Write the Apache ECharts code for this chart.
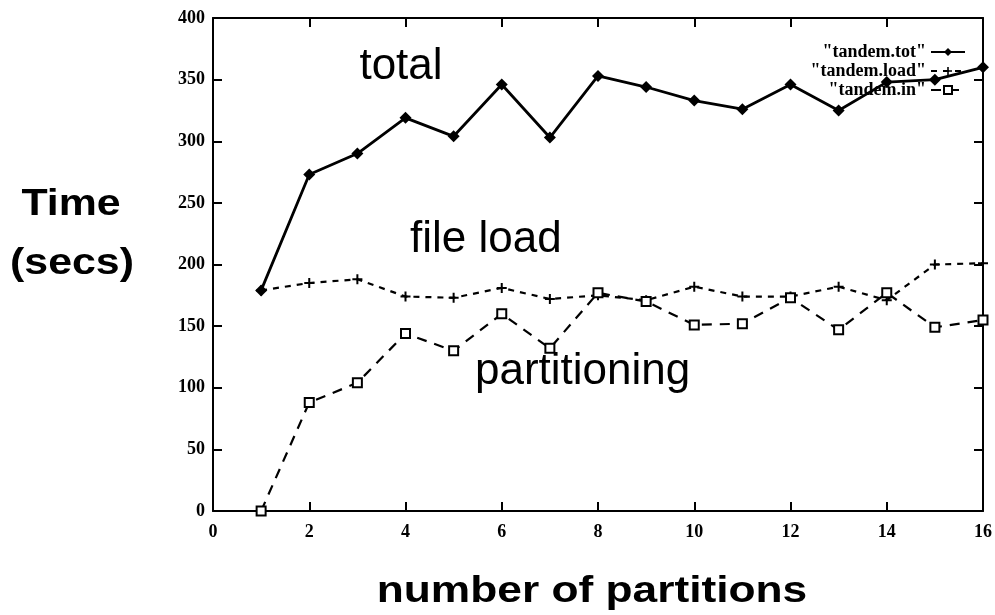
<!DOCTYPE html>
<html>
<head>
<meta charset="utf-8">
<script src="https://cdn.jsdelivr.net/npm/echarts@6/dist/echarts.min.js"></script>
<style>html,body{margin:0;padding:0;background:#fff;}#c{width:995px;height:615px;}</style>
</head>
<body>
<div id="c"></div>
<script>
const partitions = [1,2,3,4,5,6,7,8,9,10,11,12,13,14,15,16];
const tandemTot  = [179,273,290,319,304,346,303,353,344,333,326,346,325,348,350,360];
const tandemLoad = [179,185,188,174,173,181,172,175,171,182,174,174,182,171,200,201];
const tandemIn   = [0,88,104,144,130,160,132,177,170,151,152,173,147,177,149,155];
const xTicks = [0,2,4,6,8,10,12,14,16];
const yTicks = [0,50,100,150,200,250,300,350,400];

const pair = (ys) => partitions.map((x, i) => [x, ys[i]]);
const plusPath = 'path://M4,0h2v4h4v2h-4v4h-2v-4h-4v-2h4z';
const tickFont = {fontFamily: 'Liberation Serif', fontWeight: 'bold', fontSize: 18, color: '#000'};
const axisLineStyle = {color: '#000', width: 2};

const chart = echarts.init(document.getElementById('c'));
chart.setOption({
  animation: false,
  backgroundColor: '#fff',
  grid: {left: 213, right: 8, top: 18, bottom: 104, containLabel: false},
  xAxis: [{
    type: 'value', position: 'bottom', min: xTicks[0], max: xTicks[xTicks.length - 1], interval: 2,
    axisLine: {show: true, onZero: false, lineStyle: axisLineStyle},
    axisTick: {show: true, inside: true, length: 9, lineStyle: axisLineStyle},
    axisLabel: Object.assign({margin: 12}, tickFont),
    splitLine: {show: false}
  }, {
    type: 'value', position: 'top', min: xTicks[0], max: xTicks[xTicks.length - 1], interval: 2,
    axisLine: {show: true, onZero: false, lineStyle: axisLineStyle},
    axisTick: {show: true, inside: true, length: 9, lineStyle: axisLineStyle},
    axisLabel: {show: false}, splitLine: {show: false}
  }],
  yAxis: [{
    type: 'value', position: 'left', min: yTicks[0], max: yTicks[yTicks.length - 1], interval: 50,
    axisLine: {show: true, onZero: false, lineStyle: axisLineStyle},
    axisTick: {show: true, inside: true, length: 9, lineStyle: axisLineStyle},
    axisLabel: Object.assign({margin: 8}, tickFont),
    splitLine: {show: false}
  }, {
    type: 'value', position: 'right', min: yTicks[0], max: yTicks[yTicks.length - 1], interval: 50,
    axisLine: {show: true, onZero: false, lineStyle: axisLineStyle},
    axisTick: {show: true, inside: true, length: 9, lineStyle: axisLineStyle},
    axisLabel: {show: false}, splitLine: {show: false}
  }],
  legend: {
    orient: 'vertical', align: 'right', right: 24, top: 38,
    itemWidth: 34, itemHeight: 10, itemGap: 1,
    formatter: '"{name}"',
    textStyle: {fontFamily: 'Liberation Serif', fontWeight: 'bold', fontSize: 18, lineHeight: 17, color: '#000'},
    data: ['tandem.tot', 'tandem.load', 'tandem.in']
  },
  series: [{
    name: 'tandem.tot', type: 'line', data: pair(tandemTot),
    symbol: 'diamond', symbolSize: 12,
    lineStyle: {color: '#000', width: 2.8},
    itemStyle: {color: '#000'}
  }, {
    name: 'tandem.load', type: 'line', data: pair(tandemLoad),
    symbol: plusPath, symbolSize: 10,
    lineStyle: {color: '#000', width: 2.2, type: [6, 6]},
    itemStyle: {color: '#000'}
  }, {
    name: 'tandem.in', type: 'line', data: pair(tandemIn),
    symbol: 'emptyRect', symbolSize: 9,
    lineStyle: {color: '#000', width: 2.2, type: [10, 8]},
    itemStyle: {color: '#000', borderColor: '#000', borderWidth: 2.5}
  }],
  graphic: [
    {type: 'text', x: 401, y: 67, style: {text: 'total', fontFamily: 'Liberation Sans', fontSize: 44, fill: '#000', align: 'center', verticalAlign: 'middle'}},
    {type: 'text', x: 410, y: 240, style: {text: 'file load', fontFamily: 'Liberation Sans', fontSize: 44, fill: '#000', align: 'left', verticalAlign: 'middle'}},
    {type: 'text', x: 475, y: 372, style: {text: 'partitioning', fontFamily: 'Liberation Sans', fontSize: 44, fill: '#000', align: 'left', verticalAlign: 'middle'}},
    {type: 'text', x: 71, y: 205, scaleX: 1.19, style: {text: 'Time', fontFamily: 'Liberation Sans', fontWeight: 'bold', fontSize: 36, fill: '#000', align: 'center', verticalAlign: 'middle'}},
    {type: 'text', x: 72, y: 264, scaleX: 1.19, style: {text: '(secs)', fontFamily: 'Liberation Sans', fontWeight: 'bold', fontSize: 36, fill: '#000', align: 'center', verticalAlign: 'middle'}},
    {type: 'text', x: 592, y: 592, scaleX: 1.23, style: {text: 'number of partitions', fontFamily: 'Liberation Sans', fontWeight: 'bold', fontSize: 36, fill: '#000', align: 'center', verticalAlign: 'middle'}}
  ]
});
</script>
</body>
</html>
